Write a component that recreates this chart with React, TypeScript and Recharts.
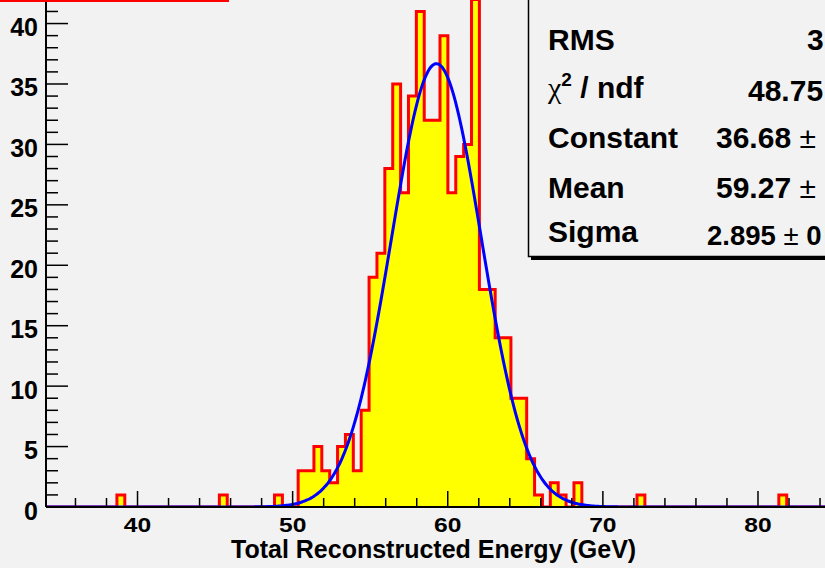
import React from "react";
import { Area, ComposedChart, Label, Line, XAxis, YAxis } from "recharts";

// histogram: 100 bins starting at BIN_LOW
const BIN_LOW = 34.1;
const BIN_WIDTH = 0.508;
const COUNTS = [
  0, 0, 0, 0, 0, 0, 0, 0, 0, 1,
  0, 0, 0, 0, 0, 0, 0, 0, 0, 0,
  0, 0, 1, 0, 0, 0, 0, 0, 0, 1,
  0, 0, 3, 3, 5, 3, 2, 5, 6, 3,
  8, 19, 21, 28, 35, 26, 34, 41, 32, 32,
  39, 26, 29, 30, 42, 18, 18, 14, 14, 9,
  9, 4, 1, 0, 2, 1, 0, 2, 0, 0,
  0, 0, 0, 0, 0, 1, 0, 0, 0, 0,
  0, 0, 0, 0, 0, 0, 0, 0, 0, 0,
  0, 0, 0, 1, 0, 0, 0, 0, 0, 0,
];

// gaussian fit parameters (from the stats box)
const FIT_CONSTANT = 36.68;
const FIT_MEAN = 59.27;
const FIT_SIGMA = 2.895;

const X_TICKS = [36, 38, 40, 42, 44, 46, 48, 50, 52, 54, 56, 58, 60, 62, 64, 66, 68, 70, 72, 74, 76, 78, 80, 82, 84];
const X_LABELS = [40, 50, 60, 70, 80];
const Y_TICKS = [
  0, 1, 2, 3, 4, 5, 6, 7, 8, 9, 10, 11, 12, 13, 14, 15, 16, 17, 18, 19, 20, 21,
  22, 23, 24, 25, 26, 27, 28, 29, 30, 31, 32, 33, 34, 35, 36, 37, 38, 39, 40, 41, 42, 43, 44,
];
const Y_LABELS = [0, 5, 10, 15, 20, 25, 30, 35, 40];
const X_TITLE = "Total Reconstructed Energy (GeV)";

const STAT_NAMES = ["RMS", "chi2", "Constant", "Mean", "Sigma"];
const STAT_VALUES = ["3", "48.75", "36.68 \u00b1", "59.27 \u00b1", "2.895 \u00b1 0"];

const X_MAX = BIN_LOW + COUNTS.length * BIN_WIDTH;

const histData = COUNTS.map((c, i) => ({ x: BIN_LOW + i * BIN_WIDTH, count: c }));
histData.push({ x: X_MAX, count: COUNTS[COUNTS.length - 1] });

const fitData: { x: number; fit: number }[] = [];
for (let i = 0; i <= 508; i++) {
  const x = BIN_LOW + i * 0.1;
  fitData.push({ x, fit: FIT_CONSTANT * Math.exp(-0.5 * Math.pow((x - FIT_MEAN) / FIT_SIGMA, 2)) });
}

const FONT = "'Liberation Sans', Arial, sans-serif";
const PLOT_LEFT = 46;
const PLOT_BOTTOM = 533;
const SHIFT = 26; // plot frame top sits above the visible page

const XTick = (props: any) => {
  const { x, payload } = props;
  const major = X_LABELS.includes(payload.value);
  const label = String(payload.value);
  return (
    <g>
      <line x1={x} x2={x} y1={PLOT_BOTTOM} y2={PLOT_BOTTOM - (major ? 16 : 9)} stroke="#000" strokeWidth={1.5} />
      {major && (
        <text
          x={x}
          y={PLOT_BOTTOM + 25}
          textAnchor="middle"
          fontFamily={FONT}
          fontWeight="bold"
          fontSize={21}
          fill="#000"
          textLength={label.length * 13.7}
          lengthAdjust="spacingAndGlyphs"
        >
          {label}
        </text>
      )}
    </g>
  );
};

const YTick = (props: any) => {
  const { y, payload } = props;
  const major = Y_LABELS.includes(payload.value);
  return (
    <g>
      <line x1={PLOT_LEFT} x2={PLOT_LEFT + (major ? 22 : 12)} y1={y} y2={y} stroke="#000" strokeWidth={1.5} />
      {major && (
        <text x={38} y={y + 12.5} textAnchor="end" fontFamily={FONT} fontWeight="bold" fontSize={25} fill="#000">
          {payload.value}
        </text>
      )}
    </g>
  );
};

function renderValue(v: string) {
  // the plus-minus sign is drawn thin in the original
  const parts = v.split("\u00b1");
  return parts.map((p, i) => (
    <React.Fragment key={i}>
      {i > 0 && <tspan fontWeight="normal">{"\u00b1"}</tspan>}
      {p}
    </React.Fragment>
  ));
}

function StatsBox() {
  const rows = [50, 98, 148, 198, 242];
  const valueX = [807, 748, 716, 716, 707];
  return (
    <svg width={825} height={568} style={{ position: "absolute", left: 0, top: 0, pointerEvents: "none" }}>
      <rect x={0} y={0} width={229} height={2} fill="#ff0000" />
      <rect x={531} y={257} width={400} height={3} fill="#000" />
      <rect x={528.5} y={-10} width={400} height={266.5} fill="#f2f2f2" stroke="#000" strokeWidth={1.5} />
      {STAT_NAMES.map((name, i) => (
        <g key={name} fontFamily={FONT} fontWeight="bold" fontSize={30} fill="#000">
          {name === "chi2" ? (
            <text x={548} y={rows[i]}>
              <tspan fontFamily="'Liberation Serif', serif" fontWeight="normal">{"\u03c7"}</tspan>
              <tspan fontSize={19} dy={-12}>2</tspan>
              <tspan dy={12}>{" / ndf"}</tspan>
            </text>
          ) : (
            <text x={548} y={rows[i]}>{name}</text>
          )}
          <text x={valueX[i]} y={rows[i] + (i === 1 || i === 4 ? 3 : 0)} fontSize={i === 4 ? 27.5 : 30}>
            {renderValue(STAT_VALUES[i])}
          </text>
        </g>
      ))}
    </svg>
  );
}

export default function App() {
  return (
    <div style={{ position: "absolute", left: 0, top: 0, width: 825, height: 568, overflow: "hidden", background: "#f2f2f2" }}>
      <div style={{ position: "absolute", left: 0, top: -SHIFT }}>
        <ComposedChart width={834} height={594} margin={{ top: 0, right: 0, bottom: 0, left: 0 }}>
          <Area
            data={histData}
            dataKey="count"
            type="stepAfter"
            fill="#ffff00"
            fillOpacity={1}
            stroke="#ff0000"
            strokeWidth={3}
            dot={false}
            activeDot={false}
            isAnimationActive={false}
          />
          <Line
            data={fitData}
            dataKey="fit"
            type="monotone"
            stroke="#0000ff"
            strokeWidth={3}
            dot={false}
            activeDot={false}
            isAnimationActive={false}
          />
          <XAxis
            dataKey="x"
            type="number"
            domain={[BIN_LOW, X_MAX]}
            allowDataOverflow
            ticks={X_TICKS}
            interval={0}
            height={61}
            tickLine={false}
            tickSize={0}
            tick={<XTick />}
            axisLine={{ stroke: "#000", strokeWidth: 2 }}
          >
            <Label
              content={() => (
                <text x={231} y={557.5 + SHIFT} textAnchor="start" fontFamily={FONT} fontWeight="bold" fontSize={25} fill="#000">
                  {X_TITLE}
                </text>
              )}
            />
          </XAxis>
          <YAxis
            type="number"
            domain={[0, 44.1]}
            allowDataOverflow
            ticks={Y_TICKS}
            interval={0}
            width={PLOT_LEFT}
            tickLine={false}
            tickSize={0}
            tick={<YTick />}
            axisLine={{ stroke: "#000", strokeWidth: 2 }}
          />
        </ComposedChart>
      </div>
      <StatsBox />
    </div>
  );
}
